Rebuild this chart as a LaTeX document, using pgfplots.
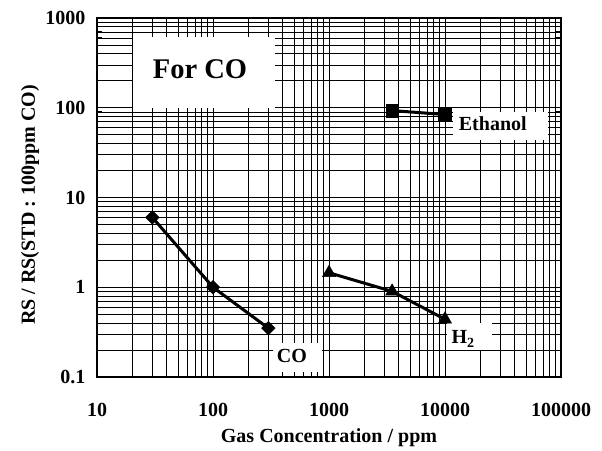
\documentclass[border=0pt]{standalone}
\usepackage{fontspec}
\setmainfont{Liberation Serif}
\usepackage{pgfplots}
\pgfplotsset{compat=1.18}

\newcommand{\tf}{\fontsize{20}{22}\selectfont\bfseries}
\newcommand{\lf}{\fontsize{20}{22}\selectfont\bfseries}

\begin{document}
\begin{tikzpicture}
\begin{axis}[
    at={(0pt,0pt)}, anchor=south west,
    scale only axis, width=464pt, height=359pt,
    xmode=log, ymode=log,
    xmin=10, xmax=100000, ymin=0.1, ymax=1000,
    xtick={10,100,1000,10000,100000},
    xticklabels={10,100,1000,10000,100000},
    ytick={0.1,1,10,100,1000},
    yticklabels={0.1,1,10,100,1000},
    grid=both,
    major grid style={black,line width=0.8pt},
    minor grid style={black,line width=0.7pt},
    tick align=inside, major tick length=6pt, minor tick length=5pt,
    every tick/.style={black,line width=0.8pt},
    axis line style={line width=2pt},
    tick label style={font=\tf},
    xticklabel style={yshift=-23pt},
    yticklabel style={xshift=-8pt},
    xlabel={Gas Concentration / ppm},
    ylabel={RS / RS(STD : 100ppm CO)},
    label style={font=\lf, inner sep=0pt},
    xlabel style={at={(axis description cs:0.5,-0.1838)}, anchor=base},
    ylabel style={at={(axis description cs:-0.1444,0.479)}, anchor=center},
    clip=false,
]
% white label boxes over the grid
\fill[white] (rel axis cs:0.0776,0.749) rectangle (rel axis cs:0.3836,0.947);
\fill[white] (rel axis cs:0.767,0.660) rectangle (rel axis cs:0.972,0.738);
\fill[white] (rel axis cs:0.379,0) rectangle (rel axis cs:0.485,0.095);
\fill[white] (rel axis cs:0.754,0.075) rectangle (rel axis cs:0.851,0.150);

% CO
\addplot[black, line width=3pt, mark=square*, mark size=4.8pt,
    mark options={solid,rotate=45,line width=0.5pt}]
    coordinates {(30,6.0)(100,1.0)(300,0.35)};
% H2
\addplot[black, line width=3pt, mark=triangle*, mark size=7.5pt,
    mark options={solid,line width=0.5pt}]
    coordinates {(1000,1.45)(3500,0.9)(10000,0.44)};
% Ethanol
\addplot[black, line width=3pt, mark=square*, mark size=6.3pt,
    mark options={solid,line width=0.5pt}]
    coordinates {(3500,93)(10000,84)};

\node[font=\fontsize{28.5}{30}\selectfont\bfseries] at (rel axis cs:0.222,0.858) {For CO};
\node[font=\lf] at (rel axis cs:0.853,0.705) {Ethanol};
\node[font=\lf] at (rel axis cs:0.420,0.058) {CO};
\node[font=\lf] at (rel axis cs:0.789,0.106) {H\textsubscript{2}};
\end{axis}
% frame and ticks again, on top of the white boxes
\begin{axis}[
    at={(0pt,0pt)}, anchor=south west,
    scale only axis, width=464pt, height=359pt,
    xmode=log, ymode=log,
    xmin=10, xmax=100000, ymin=0.1, ymax=1000,
    xtick={10,100,1000,10000,100000}, xticklabels={},
    ytick={0.1,1,10,100,1000}, yticklabels={},
    tick align=inside, major tick length=6pt, minor tick length=5pt,
    every tick/.style={black,line width=0.8pt},
    axis line style={line width=2pt},
]
\end{axis}
\path (-97pt,-73pt) rectangle (505pt,377pt);
\end{tikzpicture}
\end{document}
